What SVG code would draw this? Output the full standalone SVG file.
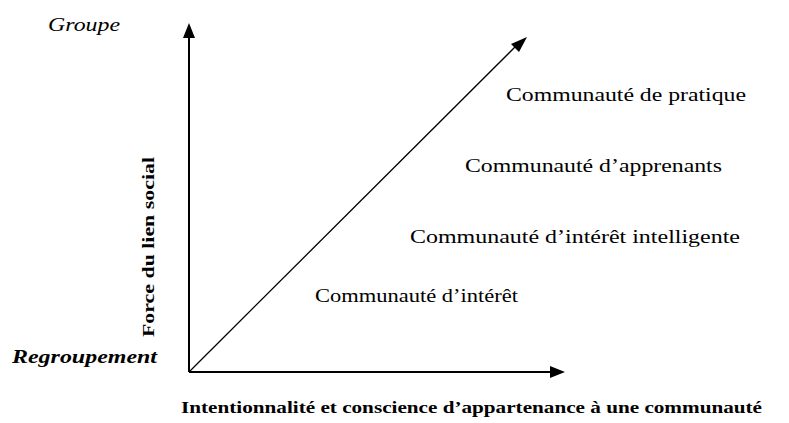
<svg xmlns="http://www.w3.org/2000/svg" width="789" height="423" viewBox="0 0 789 423">
<style>
.ax{stroke:#000;stroke-width:2;fill:none}
.dg{stroke:#000;stroke-width:1.3;fill:none}
.lbl{font-family:"Liberation Serif","Times New Roman",serif;font-size:19px;fill:#000}
.it{font-family:"Liberation Serif","Times New Roman",serif;font-style:italic;font-size:18px;fill:#000}
.bi{font-family:"Liberation Serif","Times New Roman",serif;font-style:italic;font-weight:bold;font-size:19px;fill:#000}
.b{font-family:"Liberation Serif","Times New Roman",serif;font-weight:bold;font-size:17px;fill:#000}
</style>
<g id="connectors">
<line class="ax" x1="189" y1="372" x2="189" y2="37"/>
<path d="M183,38 L189,23 L195,38 z" fill="#000"/>
<line class="ax" x1="189" y1="372" x2="551" y2="372"/>
<path d="M550,366 L565,372 L550,378 z" fill="#000"/>
<line class="dg" x1="190" y1="371" x2="516" y2="46"/>
<path d="M511,44 L527,37 L519,52 z" fill="#000"/>
</g>
<g id="axis-labels">
<text class="it" x="48" y="31" textLength="72" lengthAdjust="spacingAndGlyphs">Groupe</text>
<text class="bi" x="12" y="363" textLength="145" lengthAdjust="spacingAndGlyphs">Regroupement</text>
<text class="b" transform="translate(154,337) rotate(-90)" x="0" y="0" textLength="180" lengthAdjust="spacingAndGlyphs">Force du lien social</text>
<text class="b" x="181" y="413" textLength="581" lengthAdjust="spacingAndGlyphs">Intentionnalité et conscience d’appartenance à une communauté</text>
</g>
<g id="node-pratique"><text class="lbl" x="506" y="101" textLength="240" lengthAdjust="spacingAndGlyphs">Communauté de pratique</text></g>
<g id="node-apprenants"><text class="lbl" x="465" y="172" textLength="257" lengthAdjust="spacingAndGlyphs">Communauté d’apprenants</text></g>
<g id="node-interet-intelligente"><text class="lbl" x="410" y="243" textLength="330" lengthAdjust="spacingAndGlyphs">Communauté d’intérêt intelligente</text></g>
<g id="node-interet"><text class="lbl" x="315" y="302" textLength="203" lengthAdjust="spacingAndGlyphs">Communauté d’intérêt</text></g>
</svg>
